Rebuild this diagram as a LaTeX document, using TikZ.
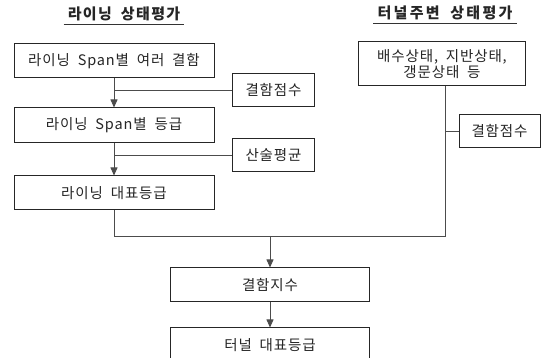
\documentclass[tikz,border=0pt]{standalone}
\usepackage{fontspec}
\setmainfont{Noto Sans CJK KR}[LetterSpace=6, WordSpace=1.9]
\usetikzlibrary{arrows.meta}
\begin{document}
\begin{tikzpicture}[x=1pt,y=-1pt,
  box/.style={draw=black!85, line width=1pt, inner sep=0pt, align=center,
    font=\fontsize{14.5}{16}\selectfont, text=black!85},
  wide/.style={box, minimum width=200pt, minimum height=34pt},
  small/.style={box, minimum width=82pt, minimum height=33pt},
  conn/.style={draw=black!70, line width=0.8pt},
  arr/.style={conn, -{Triangle[width=7pt,length=8pt]}},
  title/.style={inner xsep=4pt, inner ysep=2pt, font=\fontsize{15}{17}\selectfont\bfseries\addfontfeature{LetterSpace=9}, text=black!85}
]
\useasboundingbox (0,0) rectangle (544,358);
\clip (0,0) rectangle (544,358);
\fill[white] (0,0) rectangle (544,358);

% titles
\node[title] (t1) at (124,14) {라이닝 상태평가};
\draw[black!80, line width=1pt] ([yshift=-1pt]t1.south west) -- ([yshift=-1pt]t1.south east);
\node[title, font=\fontsize{15}{17}\selectfont\bfseries\addfontfeature{LetterSpace=15}] (t2) at (445,13) {터널주변 상태평가};
\draw[black!80, line width=1pt] ([yshift=-1pt]t2.south west) -- ([yshift=-1pt]t2.south east);

% left column
\node[wide] (b1) at (114,61) {라이닝 Span별 여러 결함};
\node[wide, minimum height=35pt] (b2) at (114,125.5) {라이닝 Span별 등급};
\node[wide] (b3) at (114,193) {라이닝 대표등급};
\node[small] (s1) at (273.5,90) {결함점수};
\node[small] (s2) at (273.5,155.5) {산술평균};

% right column
\node[box, minimum width=167pt, minimum height=44pt, font=\fontsize{14.5}{15.5}\selectfont] (r1) at (442,64) {배수상태, 지반상태,\\갱문상태 등};
\node[small, minimum width=81pt] (s3) at (499.5,131.5) {결함점수};

% bottom
\node[wide, minimum width=199pt] (k) at (270,285) {결함지수};
\node[wide, minimum width=199pt] (t) at (270,345) {터널 대표등급};

\coordinate (j) at (270,236);
\coordinate (rv) at (445,86);

\draw[arr] (b1.south) -- (b2.north);
\draw[conn] (b1.south |- s1.west) -- (s1.west);
\draw[arr] (b2.south) -- (b3.north);
\draw[conn] (b2.south |- s2.west) -- (s2.west);
\draw[conn] (b3.south) |- (j);
\draw[conn] (rv) |- (j);
\draw[conn] (rv |- s3.west) -- (s3.west);
\draw[arr] (j) -- (k.north);
\draw[arr] (k.south) -- (t.north);
\end{tikzpicture}
\end{document}
